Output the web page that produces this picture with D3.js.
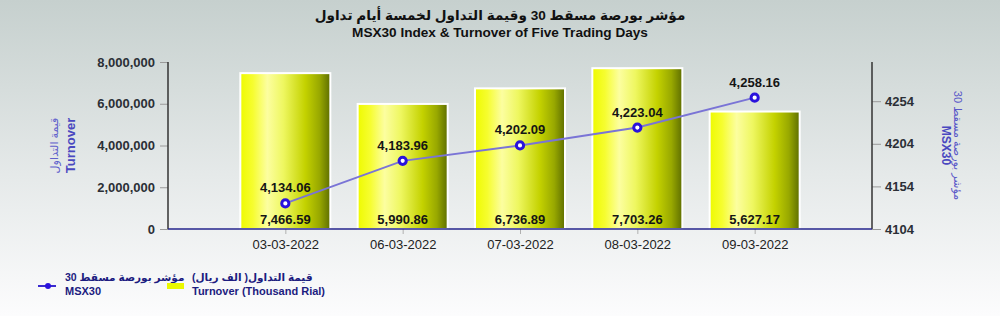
<!DOCTYPE html>
<html>
<head>
<meta charset="utf-8">
<script src="https://cdn.jsdelivr.net/npm/d3@7"></script>
<style>
html,body{margin:0;padding:0;background:#fff;}
svg{display:block;font-family:"Liberation Sans",Arial,"DejaVu Sans",sans-serif;}
</style>
</head>
<body>
<svg id="chart" width="1000" height="316"></svg>
<script>
const categories = ["03-03-2022","06-03-2022","07-03-2022","08-03-2022","09-03-2022"];
const turnover = [7466590, 5990860, 6736890, 7703260, 5627170];
const turnoverLabels = ["7,466.59","5,990.86","6,736.89","7,703.26","5,627.17"];
const msx30 = [4134.06, 4183.96, 4202.09, 4223.04, 4258.16];
const msx30Labels = ["4,134.06","4,183.96","4,202.09","4,223.04","4,258.16"];
const leftTicks = [0, 2000000, 4000000, 6000000, 8000000];
const rightTicks = [4104, 4154, 4204, 4254];
const titleAr = "مؤشر بورصة مسقط 30 وقيمة التداول لخمسة أيام تداول";
const titleEn = "MSX30 Index & Turnover of Five Trading Days";

const svg = d3.select("#chart");
const W = 1000, H = 316;
const L = 168, R = 872, T = 62, B = 229;

const defs = svg.append("defs");
const bg = defs.append("linearGradient").attr("id","bg").attr("x1",0).attr("y1",0).attr("x2",0).attr("y2",1);
bg.append("stop").attr("offset","0%").attr("stop-color","#c6d0ce");
bg.append("stop").attr("offset","55%").attr("stop-color","#e5e9e9");
bg.append("stop").attr("offset","100%").attr("stop-color","#fcfcfd");
const bar = defs.append("linearGradient").attr("id","barg").attr("x1",0).attr("y1",0).attr("x2",1).attr("y2",0);
bar.append("stop").attr("offset","0%").attr("stop-color","#eefa00");
bar.append("stop").attr("offset","14%").attr("stop-color","#f6fd30");
bar.append("stop").attr("offset","30%").attr("stop-color","#fcfea0");
bar.append("stop").attr("offset","48%").attr("stop-color","#eef760");
bar.append("stop").attr("offset","72%").attr("stop-color","#c4d200");
bar.append("stop").attr("offset","88%").attr("stop-color","#98a800");
bar.append("stop").attr("offset","100%").attr("stop-color","#5e6e00");

svg.append("rect").attr("width",W).attr("height",H).attr("fill","url(#bg)");

const x = d3.scalePoint().domain(categories).range([L, R]).padding(1);
const yL = d3.scaleLinear().domain([0, 8000000]).range([B, T]);
const yR = d3.scaleLinear().domain([4104, 4300]).range([B, T]);
const bw = 90;

// titles
svg.append("text").attr("x",500).attr("y",20).attr("text-anchor","middle")
  .attr("font-size",13.6).attr("font-weight","bold").attr("fill","#111").text(titleAr);
svg.append("text").attr("x",500).attr("y",37).attr("text-anchor","middle")
  .attr("font-size",13.6).attr("font-weight","bold").attr("fill","#111").text(titleEn);

// bars
svg.selectAll("rect.bar").data(turnover).join("rect").attr("class","bar")
  .attr("x",(d,i)=>x(categories[i]) - bw/2)
  .attr("y",d=>yL(d))
  .attr("width",bw)
  .attr("height",d=>B - yL(d))
  .attr("fill","url(#barg)")
  .attr("stroke","#ffffff").attr("stroke-width",2);

// left axis
const gL = svg.append("g").attr("transform",`translate(${L},0)`)
  .call(d3.axisLeft(yL).tickValues(leftTicks).tickFormat(d3.format(",")).tickSize(8).tickPadding(5));
gL.select(".domain").remove();
gL.selectAll(".tick line").attr("stroke","#9a9a9a");
gL.selectAll(".tick text").attr("font-size",13).attr("font-weight","bold").attr("fill","#2b2f36")
  .attr("font-family","Liberation Sans, Arial, sans-serif");
svg.append("line").attr("x1",L).attr("x2",L).attr("y1",T).attr("y2",B).attr("stroke","#333").attr("stroke-width",1.5);

// right axis
const gR = svg.append("g").attr("transform",`translate(${R},0)`)
  .call(d3.axisRight(yR).tickValues(rightTicks).tickFormat(d3.format("d")).tickSize(9).tickPadding(4));
gR.select(".domain").remove();
gR.selectAll(".tick line").attr("stroke","#9a9a9a");
gR.selectAll(".tick text").attr("font-size",13).attr("font-weight","bold").attr("fill","#2b2f36")
  .attr("font-family","Liberation Sans, Arial, sans-serif");
svg.append("line").attr("x1",R).attr("x2",R).attr("y1",T).attr("y2",B).attr("stroke","#333").attr("stroke-width",1.5);

// bottom axis
const gB = svg.append("g").attr("transform",`translate(0,${B})`)
  .call(d3.axisBottom(x).tickSize(5).tickPadding(6));
gB.select(".domain").remove();
gB.selectAll(".tick line").attr("stroke","#b0b0b0");
gB.selectAll(".tick text").attr("font-size",13).attr("fill","#222")
  .attr("font-family","Liberation Sans, Arial, sans-serif");
svg.append("line").attr("x1",L).attr("x2",R).attr("y1",B).attr("y2",B).attr("stroke","#25258c").attr("stroke-width",1.5);

// bar labels
svg.selectAll("text.blab").data(turnoverLabels).join("text").attr("class","blab")
  .attr("x",(d,i)=>x(categories[i])).attr("y",B-5).attr("text-anchor","middle")
  .attr("font-size",13).attr("font-weight","bold").attr("fill","#151515").text(d=>d);

// line
const line = d3.line().x((d,i)=>x(categories[i])).y(d=>yR(d));
svg.append("path").datum(msx30).attr("d",line).attr("fill","none")
  .attr("stroke","#7a74d6").attr("stroke-width",2);
svg.selectAll("circle.pt").data(msx30).join("circle").attr("class","pt")
  .attr("cx",(d,i)=>x(categories[i])).attr("cy",d=>yR(d)).attr("r",3.6)
  .attr("fill","#ffffff").attr("stroke","#2a12dc").attr("stroke-width",3);
svg.selectAll("text.plab").data(msx30).join("text").attr("class","plab")
  .attr("x",(d,i)=>x(categories[i])).attr("y",d=>yR(d)-11).attr("text-anchor","middle")
  .attr("font-size",13).attr("font-weight","bold").attr("fill","#151515").text((d,i)=>msx30Labels[i]);

// axis titles
const cy = (T+B)/2;
svg.append("text").attr("transform",`translate(58,${cy}) rotate(-90)`).attr("text-anchor","middle")
  .attr("font-size",11).attr("fill","#6060cc").text("قيمة التداول");
svg.append("text").attr("transform",`translate(75,${cy}) rotate(-90)`).attr("text-anchor","middle")
  .attr("font-size",13).attr("font-weight","bold").attr("fill","#4a48c0").text("Turnover");
svg.append("text").attr("transform",`translate(954,${cy}) rotate(90)`).attr("text-anchor","middle")
  .attr("font-size",11).attr("fill","#5a58c8").text("مؤشر بورصة مسقط 30");
svg.append("text").attr("transform",`translate(942,${cy}) rotate(90)`).attr("text-anchor","middle")
  .attr("font-size",12).attr("font-weight","bold").attr("fill","#4a48c0").text("MSX30");

// legend
const lg = svg.append("g");
lg.append("line").attr("x1",38).attr("x2",56).attr("y1",286).attr("y2",286).attr("stroke","#3a2ad0").attr("stroke-width",2);
lg.append("circle").attr("cx",48).attr("cy",286).attr("r",3).attr("fill","#2a12dc");
lg.append("text").attr("x",65).attr("y",281).attr("font-size",10.5).attr("font-weight","bold").attr("fill","#1c1c80").text("مؤشر بورصة مسقط 30");
lg.append("text").attr("x",65).attr("y",295).attr("font-size",11).attr("font-weight","bold").attr("fill","#1c1c80").text("MSX30");
lg.append("rect").attr("x",167).attr("y",283).attr("width",17).attr("height",6).attr("fill","#eaf800");
lg.append("text").attr("x",192).attr("y",281).attr("font-size",10.5).attr("font-weight","bold").attr("fill","#1c1c80")
  .attr("direction","rtl").attr("text-anchor","end").text("قيمة التداول( الف ريال)");
lg.append("text").attr("x",192).attr("y",295).attr("font-size",11).attr("font-weight","bold").attr("fill","#1c1c80").text("Turnover (Thousand Rial)");
</script>
</body>
</html>
